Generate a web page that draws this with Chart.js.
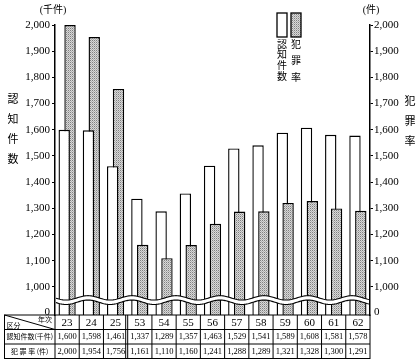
<!DOCTYPE html>
<html>
<head>
<meta charset="utf-8">
<script src="https://cdn.jsdelivr.net/npm/chart.js@4.4.1/dist/chart.umd.min.js"></script>
<style>
html, body { margin: 0; padding: 0; background: #fff; }
</style>
</head>
<body>
<canvas id="crimeChart" width="418" height="363"></canvas>
<script>
// years (昭和)
var years = ['23', '24', '25', '53', '54', '55', '56', '57', '58', '59', '60', '61', '62'];

// 認知件数 (千件)
var cases = [1600, 1598, 1461, 1337, 1289, 1357, 1463, 1529, 1541, 1589, 1608, 1581, 1578];
// 犯罪率 (件)
var rates = [2000, 1954, 1756, 1161, 1110, 1160, 1241, 1288, 1289, 1321, 1328, 1300, 1291];

// axis ticks, the "0" sits below the break
var tickValues = [905, 1000, 1100, 1200, 1300, 1400, 1500, 1600, 1700, 1800, 1900, 2000];
var zeroTick = 905;
var breakValue = 950;

var serif = '"Liberation Serif", "Noto Sans CJK JP", serif';
var cjk = '"Noto Sans CJK JP", sans-serif';

// shaded screen for the 犯罪率 bars
function dots() {
    var c = document.createElement('canvas');
    c.width = 2; c.height = 2;
    var g = c.getContext('2d');
    g.fillStyle = '#d8d8d8'; g.fillRect(0, 0, 2, 2);
    g.fillStyle = '#808080'; g.fillRect(0, 0, 1, 1);
    g.fillStyle = '#b0b0b0'; g.fillRect(1, 1, 1, 1);
    return g.createPattern(c, 'repeat');
}
var shade = dots();

// the taller bar of a pair sits behind the shorter one
function points(arr, keep) {
    return arr.map(function (v, i) { return { x: i, y: keep(v, i) ? v : null }; });
}
var casePts = points(cases, function () { return true; });
var rateBack = points(rates, function (v, i) { return v > cases[i]; });
var rateFront = points(rates, function (v, i) { return v <= cases[i]; });

function fmt(v) { return v.toLocaleString('en-US'); }

function vtext(ctx, str, x, y, step) {
    for (var i = 0; i < str.length; i++) ctx.fillText(str[i], x, y + i * step);
}

var decor = {
    id: 'decor',
    afterDatasetsDraw: function (chart) {
        var ctx = chart.ctx, a = chart.chartArea, y = chart.scales.y;
        var yb = y.getPixelForValue(breakValue);
        var x0 = a.left + 1, x1 = a.right - 1;
        function wave(x, off) { return yb + off + 2.2 * Math.sin((x - a.left) / 44 * Math.PI * 2); }
        ctx.save();
        ctx.beginPath();
        for (var x = x0; x <= x1; x++) ctx.lineTo(x, wave(x, -2.2));
        for (x = x1; x >= x0; x--) ctx.lineTo(x, wave(x, 2.2));
        ctx.closePath();
        ctx.fillStyle = '#fff';
        ctx.fill();
        ctx.strokeStyle = '#000';
        ctx.lineWidth = 1.1;
        [-2.2, 2.2].forEach(function (off) {
            ctx.beginPath();
            for (var x = x0; x <= x1; x++) ctx.lineTo(x, wave(x, off));
            ctx.stroke();
        });
        ctx.restore();
    },
    afterDraw: function (chart) {
        var ctx = chart.ctx, a = chart.chartArea, xa = chart.scales.x, xb = chart.scales.x2;
        function colX(i) { return (xa.getPixelForValue(i) + xb.getPixelForValue(i)) / 2; }
        ctx.save();
        ctx.fillStyle = '#000';
        ctx.textAlign = 'center';
        ctx.textBaseline = 'middle';

        // axis units and titles
        ctx.font = '10px ' + serif;
        ctx.fillText('(千件)', 53, 10);
        ctx.fillText('(件)', 371, 10);
        ctx.font = '11px ' + cjk;
        vtext(ctx, '認知件数', 13, 99, 20);
        vtext(ctx, '犯罪率', 410, 101, 20);

        // legend
        ctx.lineWidth = 1.3;
        ctx.strokeStyle = '#000';
        ctx.fillStyle = '#fff';
        ctx.fillRect(277, 13, 10, 24);
        ctx.strokeRect(277, 13, 10, 24);
        ctx.fillStyle = shade;
        ctx.fillRect(291, 13, 10, 24);
        ctx.strokeRect(291, 13, 10, 24);
        ctx.fillStyle = '#000';
        ctx.font = '10px ' + cjk;
        vtext(ctx, '認知件数', 282, 44, 10.7);
        vtext(ctx, '犯罪率', 296, 44, 16.5);

        // data table
        var top = a.bottom, rh = 14.5, left = 4.5;
        var step = colX(1) - colX(0);
        var right = colX(years.length - 1) + step / 2;
        var bottom = top + rh * 3;
        ctx.lineWidth = 1;
        ctx.strokeRect(left, top, right - left, rh * 3);
        for (var r = 1; r < 3; r++) {
            ctx.beginPath();
            ctx.moveTo(left, top + rh * r);
            ctx.lineTo(right, top + rh * r);
            ctx.stroke();
        }
        ctx.beginPath();
        ctx.moveTo(a.left, top);
        ctx.lineTo(a.left, bottom);
        for (var i = 1; i < years.length; i++) {
            var bx = colX(i) - step / 2;
            ctx.moveTo(bx, top);
            ctx.lineTo(bx, bottom);
            if (years[i] - years[i - 1] > 1) {
                ctx.moveTo(bx - 2, top);
                ctx.lineTo(bx - 2, bottom);
            }
        }
        // header diagonal
        ctx.moveTo(left, top);
        ctx.lineTo(a.left, top + rh);
        ctx.stroke();

        ctx.font = '7px ' + cjk;
        ctx.textAlign = 'left';
        ctx.fillText('区分', left + 2, top + rh - 4.5);
        ctx.textAlign = 'right';
        ctx.fillText('年次', a.left - 3, top + 4.5);

        ctx.textAlign = 'center';
        ctx.font = '7px ' + cjk;
        ctx.fillText('認知件数(千件)', (left + a.left) / 2, top + rh * 1.5);
        ctx.fillText('犯 罪 率 (件)', (left + a.left) / 2, top + rh * 2.5);

        for (i = 0; i < years.length; i++) {
            var cx = colX(i);
            ctx.font = '11px ' + serif;
            ctx.fillText(years[i], cx, top + rh * 0.5 + 0.5);
            ctx.font = '8.5px ' + serif;
            ctx.fillText(fmt(cases[i]), cx, top + rh * 1.5 + 0.5);
            ctx.fillText(fmt(rates[i]), cx, top + rh * 2.5 + 0.5);
        }
        ctx.restore();
    }
};

function valueAxis(side, width, pad) {
    return {
        position: side,
        min: 893,
        max: 2000,
        stacked: false,
        afterBuildTicks: function (s) { s.ticks = tickValues.map(function (v) { return { value: v }; }); },
        afterFit: function (s) { s.width = width; },
        border: { color: '#000', width: 1.5 },
        grid: {
            drawOnChartArea: false,
            tickLength: 3,
            color: function (c) { return c.tick && c.tick.value === zeroTick ? 'rgba(0,0,0,0)' : '#000'; }
        },
        ticks: {
            color: '#000',
            padding: pad,
            font: { size: 11, family: serif },
            callback: function (v) { return v === zeroTick ? '0' : fmt(v); }
        }
    };
}

// one index axis per series, nudged so each pair overlaps slightly
var nudge = 0.12;
function indexAxis(shift) {
    return { type: 'linear', display: false, offset: false, min: -0.5 - shift, max: years.length - 0.5 - shift };
}

var bar = { grouped: false, categoryPercentage: 1, barPercentage: 0.47, borderColor: '#000', borderWidth: 1.4 };

var ctx = document.getElementById('crimeChart');

var crimeChart = new Chart(ctx, {
    type: 'bar',
    data: {
        datasets: [
            Object.assign({ label: '犯罪率', data: rateFront, xAxisID: 'x2', backgroundColor: shade }, bar),
            Object.assign({ label: '認知件数', data: casePts, xAxisID: 'x', backgroundColor: '#fff' }, bar),
            Object.assign({ label: '犯罪率', data: rateBack, xAxisID: 'x2', backgroundColor: shade }, bar)
        ]
    },
    options: {
        responsive: false,
        animation: false,
        layout: { padding: { top: 25, bottom: 48, left: 0, right: 0 } },
        plugins: { legend: { display: false }, tooltip: { enabled: false } },
        scales: {
            x: indexAxis(-nudge),
            x2: indexAxis(nudge),
            y: valueAxis('left', 55, 2),
            y2: valueAxis('right', 48, 1)
        }
    },
    plugins: [decor]
});
</script>
</body>
</html>
